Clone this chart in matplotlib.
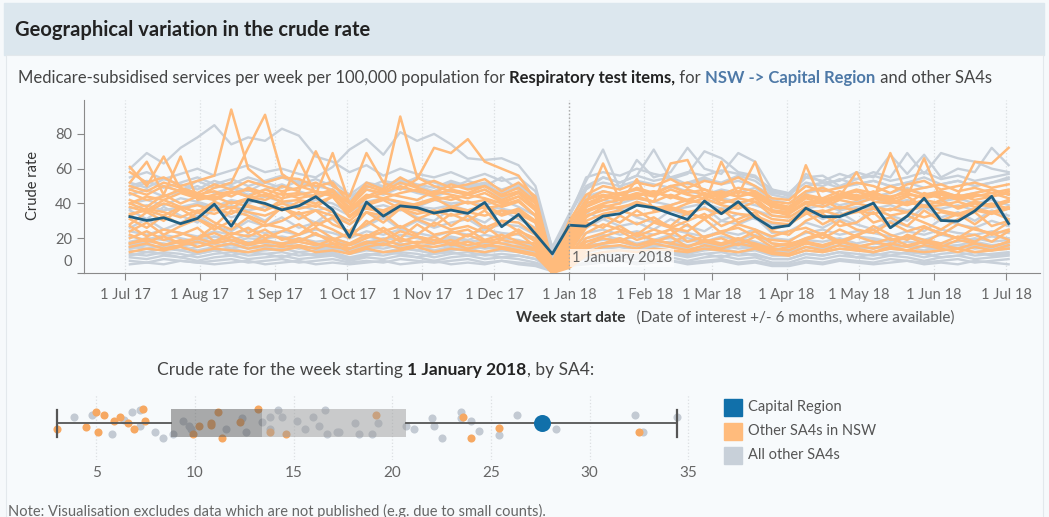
import numpy as np
import pandas as pd
import matplotlib
matplotlib.use("Agg")
import matplotlib.pyplot as plt
from matplotlib.patches import Rectangle
from matplotlib.transforms import ScaledTranslation

plt.rcParams['font.family'] = ['Lato', 'DejaVu Sans']

# ---- data ----
week_dates = pd.date_range('2017-07-03', periods=53, freq='7D')
month_ticks = pd.date_range('2017-07-01', '2018-07-01', freq='MS')
month_labels = ['1 Jul 17', '1 Aug 17', '1 Sep 17', '1 Oct 17', '1 Nov 17', '1 Dec 17',
                '1 Jan 18', '1 Feb 18', '1 Mar 18', '1 Apr 18', '1 May 18', '1 Jun 18',
                '1 Jul 18']
date_of_interest = pd.Timestamp('2018-01-01')

capital = [32.4, 30.2, 31.8, 28.4, 31.4, 39.6, 26.9, 42.2, 40.0, 36.3,
           38.6, 43.9, 36.3, 20.6, 40.8, 32.7, 38.6, 37.6, 34.5, 36.2,
           34.3, 40.6, 26.6, 33.7, 22.5, 11.0, 27.5, 26.9, 32.7, 34.1,
           39.0, 37.6, 34.1, 30.8, 41.4, 34.1, 41.0, 32.0, 25.9, 27.3,
           37.3, 32.4, 32.4, 36.0, 40.2, 26.0, 32.7, 43.0, 30.2, 29.8,
           35.7, 44.1, 28.4]

# other SA4s in NSW
nsw_lines = [
    [58, 52, 55, 50, 53, 56, 94, 60, 52, 55, 54, 50, 52, 40, 52, 48, 55, 50, 53, 49,
     51, 54, 47, 52, 44, 6, 30, 45, 50, 48, 52, 50, 54, 49, 53, 51, 55, 50, 43, 42,
     50, 47, 49, 52, 50, 46, 51, 53, 48, 50, 52, 49, 51],
    [48, 45, 50, 47, 44, 49, 52, 72, 91, 57, 50, 47, 45, 38, 48, 46, 50, 47, 45, 48,
     46, 50, 44, 47, 40, 4, 25, 40, 44, 46, 48, 45, 50, 46, 48, 44, 47, 45, 40, 38,
     45, 43, 47, 44, 46, 43, 48, 45, 47, 44, 46, 48, 45],
    [40, 44, 42, 46, 43, 45, 47, 44, 48, 45, 46, 43, 47, 36, 44, 48, 90, 55, 50, 47,
     45, 48, 42, 46, 38, 3, 22, 38, 42, 45, 44, 47, 43, 48, 45, 47, 44, 46, 39, 37,
     44, 42, 45, 43, 47, 42, 45, 44, 46, 43, 45, 44, 47],
    [42, 38, 45, 40, 44, 42, 46, 48, 44, 50, 47, 70, 50, 44, 69, 52, 48, 54, 72, 69,
     77, 64, 60, 56, 42, 5, 28, 42, 45, 43, 46, 44, 48, 45, 43, 46, 44, 47, 40, 38,
     45, 41, 44, 42, 45, 44, 46, 43, 45, 42, 44, 46, 43],
    [61, 50, 67, 48, 45, 47, 44, 49, 46, 43, 45, 47, 44, 35, 43, 46, 44, 42, 47, 45,
     43, 46, 41, 44, 36, 4, 20, 36, 40, 42, 43, 41, 45, 42, 46, 40, 43, 41, 36, 35,
     41, 40, 43, 45, 42, 69, 44, 66, 42, 45, 64, 63, 72],
    [52, 64, 45, 67, 42, 44, 40, 43, 45, 41, 42, 40, 44, 33, 40, 43, 41, 39, 42, 44,
     40, 42, 38, 41, 33, 3, 18, 40, 63, 42, 44, 41, 63, 65, 44, 42, 40, 43, 35, 34,
     40, 38, 42, 40, 43, 41, 39, 42, 40, 38, 41, 39, 42],
    [38, 35, 40, 37, 39, 36, 41, 38, 36, 40, 37, 39, 35, 30, 38, 36, 40, 37, 35, 38,
     36, 39, 34, 37, 30, 2, 16, 33, 36, 38, 40, 37, 39, 42, 40, 64, 45, 64, 36, 33,
     62, 40, 44, 58, 41, 40, 44, 38, 39, 41, 38, 40, 37],
    [34, 36, 33, 38, 35, 37, 34, 39, 36, 42, 65, 45, 69, 40, 37, 35, 38, 36, 34, 37,
     35, 38, 33, 36, 29, 2, 14, 32, 38, 40, 54, 36, 38, 35, 37, 34, 39, 36, 31, 30,
     36, 35, 38, 36, 34, 37, 35, 39, 36, 34, 37, 35, 38],
    [28, 35, 30, 37, 31, 27, 36, 33, 29, 38, 31, 36, 28, 24, 35, 29, 37, 31, 27, 34,
     30, 36, 27, 33, 25, 1, 12, 26, 33, 29, 36, 30, 27, 35, 31, 37, 29, 33, 25, 28,
     35, 28, 33, 37, 29, 32, 27, 36, 30, 34, 28, 35, 31],
    [31, 26, 33, 28, 35, 29, 25, 32, 27, 30, 35, 27, 32, 22, 28, 34, 26, 31, 35, 27,
     33, 26, 30, 29, 22, 1, 11, 29, 26, 33, 28, 32, 26, 30, 34, 27, 31, 35, 24, 22,
     30, 34, 27, 29, 35, 26, 33, 29, 25, 31, 35, 27, 30],
    [24, 29, 22, 27, 31, 25, 30, 23, 28, 26, 22, 29, 25, 20, 30, 24, 27, 22, 29, 25,
     27, 23, 30, 24, 20, 2, 10, 23, 28, 25, 22, 29, 26, 24, 31, 23, 28, 25, 21, 24,
     26, 22, 30, 25, 23, 29, 24, 27, 22, 28, 25, 23, 29],
    [27, 21, 25, 23, 20, 27, 22, 26, 20, 24, 28, 22, 19, 23, 21, 26, 20, 28, 22, 24,
     21, 27, 20, 25, 18, 1, 9, 20, 23, 27, 21, 25, 22, 28, 20, 24, 26, 21, 19, 18,
     24, 20, 25, 21, 27, 22, 19, 26, 23, 20, 26, 22, 25],
    [20, 24, 19, 22, 26, 18, 23, 21, 25, 19, 22, 26, 20, 17, 22, 19, 24, 21, 17, 23,
     25, 19, 22, 18, 17, 1, 8, 18, 21, 24, 19, 22, 25, 18, 21, 23, 19, 24, 17, 16,
     20, 23, 18, 22, 25, 19, 21, 17, 23, 20, 22, 18, 24],
    [22, 18, 21, 17, 20, 23, 19, 16, 22, 20, 18, 23, 17, 16, 20, 24, 18, 21, 19, 17,
     22, 18, 20, 23, 15, 0, 7, 16, 20, 18, 23, 19, 17, 22, 18, 20, 16, 21, 15, 17,
     19, 22, 17, 21, 18, 16, 22, 19, 17, 21, 18, 23, 19],
    [17, 20, 16, 19, 15, 18, 21, 17, 19, 16, 20, 17, 15, 14, 18, 16, 20, 17, 21, 16,
     18, 15, 19, 17, 14, 0, 6, 15, 17, 20, 16, 18, 21, 15, 19, 17, 20, 16, 13, 15,
     18, 16, 19, 15, 17, 20, 16, 18, 15, 19, 17, 15, 18],
    [17, 19, 16, 18, 20, 17, 19, 16, 18, 17, 18, 16, 19, 14, 17, 19, 16, 18, 17, 19,
     16, 18, 17, 15, 13, 0, 5, 14, 17, 18, 16, 19, 17, 15, 18, 16, 19, 17, 14, 13,
     17, 15, 18, 16, 14, 17, 15, 18, 16, 14, 17, 15, 18],
    [15, 17, 14, 16, 18, 15, 17, 14, 16, 15, 16, 14, 17, 12, 15, 17, 14, 16, 15, 17,
     14, 16, 15, 13, 11, 0, 4, 12, 15, 16, 14, 17, 15, 13, 16, 14, 17, 15, 12, 11,
     15, 13, 16, 14, 12, 15, 13, 16, 14, 12, 15, 13, 16],
    [40, 36, 42, 38, 35, 41, 37, 43, 39, 36, 41, 38, 44, 32, 39, 42, 37, 40, 43, 38,
     41, 37, 39, 42, 33, 2, 17, 35, 39, 37, 41, 38, 36, 40, 43, 39, 37, 41, 33, 32,
     38, 42, 37, 40, 38, 36, 41, 38, 42, 37, 40, 38, 41],
    [33, 37, 35, 32, 36, 34, 38, 35, 33, 37, 34, 36, 33, 28, 35, 33, 37, 34, 36, 33,
     35, 33, 36, 34, 29, 1, 13, 30, 34, 36, 33, 35, 37, 34, 32, 36, 34, 33, 29, 28,
     34, 36, 33, 35, 37, 33, 35, 32, 35, 33, 36, 34, 37],
    [46, 42, 44, 48, 45, 43, 47, 44, 42, 46, 43, 45, 48, 37, 45, 43, 46, 48, 44, 42,
     45, 43, 40, 44, 37, 3, 21, 38, 44, 42, 45, 47, 44, 41, 46, 43, 47, 44, 38, 36,
     43, 40, 44, 47, 44, 42, 40, 46, 43, 45, 42, 44, 46],
    [12, 14, 13, 15, 12, 14, 13, 12, 14, 13, 15, 12, 13, 11, 14, 12, 13, 15, 12, 14,
     13, 12, 14, 12, 10, 0, 3, 10, 12, 13, 12, 14, 13, 12, 14, 13, 12, 14, 11, 10,
     13, 12, 14, 13, 12, 14, 13, 12, 13, 14, 12, 13, 14],
    [50, 47, 52, 49, 46, 51, 48, 53, 50, 47, 49, 52, 47, 40, 50, 47, 52, 49, 46, 51,
     48, 50, 45, 49, 41, 5, 24, 42, 47, 45, 49, 46, 50, 52, 48, 45, 49, 47, 41, 40,
     47, 49, 45, 48, 46, 50, 47, 49, 51, 47, 49, 46, 48],
]

# all other SA4s
other_lines = [
    [60, 69, 63, 72, 78, 85, 74, 78, 76, 83, 79, 67, 64, 58, 62, 56, 60, 57, 55, 58,
     54, 57, 53, 55, 47, 12, 33, 50, 55, 52, 56, 53, 55, 51, 54, 52, 56, 53, 46, 45,
     52, 50, 54, 51, 53, 50, 52, 55, 51, 53, 50, 52, 54],
    [55, 58, 54, 57, 60, 56, 59, 62, 58, 60, 57, 55, 61, 71, 77, 68, 81, 76, 80, 74,
     66, 65, 66, 62, 50, 14, 32, 55, 58, 56, 60, 57, 55, 58, 56, 59, 57, 55, 48, 46,
     55, 53, 57, 54, 56, 53, 55, 58, 54, 56, 53, 55, 57],
    [48, 52, 50, 47, 53, 49, 51, 55, 52, 49, 53, 50, 48, 42, 51, 49, 53, 50, 47, 52,
     49, 51, 46, 50, 43, 15, 34, 53, 71, 48, 65, 55, 58, 72, 60, 57, 69, 64, 48, 44,
     57, 52, 53, 58, 55, 68, 57, 68, 55, 60, 58, 72, 62],
    [52, 49, 54, 51, 48, 53, 50, 47, 52, 55, 51, 54, 50, 44, 49, 53, 51, 55, 52, 49,
     53, 50, 55, 48, 42, 13, 28, 48, 55, 52, 56, 71, 54, 57, 70, 66, 58, 56, 47, 45,
     55, 56, 50, 54, 58, 55, 69, 57, 69, 66, 64, 60, 58],
    [45, 48, 44, 47, 50, 46, 49, 45, 48, 51, 47, 44, 46, 40, 48, 45, 49, 46, 44, 47,
     45, 48, 43, 46, 38, 11, 24, 44, 47, 45, 48, 46, 50, 47, 45, 48, 46, 49, 42, 40,
     46, 48, 45, 47, 44, 46, 49, 45, 47, 44, 46, 48, 45],
    [40, 42, 39, 43, 41, 38, 42, 40, 44, 41, 39, 42, 40, 35, 41, 43, 40, 38, 42, 40,
     41, 39, 42, 38, 33, 10, 23, 39, 42, 40, 43, 41, 39, 42, 40, 43, 41, 39, 36, 35,
     40, 42, 39, 41, 43, 40, 42, 39, 41, 43, 40, 42, 39],
    [36, 31, 38, 33, 29, 37, 32, 35, 30, 38, 33, 29, 36, 28, 35, 31, 38, 32, 30, 37,
     33, 29, 36, 31, 26, 9, 21, 35, 31, 37, 32, 29, 36, 33, 38, 30, 34, 31, 28, 27,
     36, 31, 35, 29, 37, 33, 30, 38, 32, 35, 30, 36, 33],
    [26, 31, 25, 29, 33, 27, 24, 30, 27, 32, 26, 29, 31, 23, 27, 32, 25, 30, 26, 29,
     31, 25, 28, 27, 22, 8, 20, 26, 31, 27, 29, 25, 31, 27, 24, 30, 28, 32, 23, 24,
     29, 26, 31, 28, 25, 30, 27, 24, 31, 28, 26, 30, 27],
    [24, 22, 25, 23, 21, 24, 22, 25, 23, 24, 22, 25, 23, 20, 24, 22, 25, 23, 21, 24,
     22, 25, 23, 22, 19, 7, 19, 23, 25, 22, 24, 22, 25, 23, 21, 24, 22, 25, 20, 19,
     23, 25, 22, 24, 23, 21, 24, 22, 25, 23, 22, 24, 23],
    [21, 19, 22, 20, 18, 21, 19, 22, 20, 21, 19, 22, 20, 17, 21, 19, 22, 20, 18, 21,
     19, 22, 20, 19, 16, 6, 17, 20, 22, 19, 21, 19, 22, 20, 18, 21, 19, 22, 17, 16,
     20, 22, 19, 21, 20, 18, 21, 19, 22, 20, 19, 21, 20],
    [18, 20, 19, 17, 19, 21, 18, 20, 19, 17, 20, 18, 19, 16, 18, 20, 19, 17, 19, 20,
     18, 19, 17, 18, 15, 6, 16, 18, 19, 20, 17, 19, 20, 18, 19, 17, 20, 18, 15, 16,
     19, 18, 20, 17, 19, 18, 20, 19, 17, 18, 20, 18, 19],
    [16, 18, 17, 15, 17, 19, 16, 18, 17, 15, 18, 16, 17, 14, 16, 18, 17, 15, 17, 18,
     16, 17, 15, 16, 13, 5, 14, 16, 17, 18, 15, 17, 18, 16, 17, 15, 18, 16, 13, 14,
     17, 16, 18, 15, 17, 16, 18, 17, 15, 16, 18, 16, 17],
    [15, 14, 16, 15, 13, 15, 16, 14, 15, 16, 14, 15, 16, 13, 15, 14, 16, 15, 13, 15,
     16, 14, 15, 14, 12, 5, 12, 14, 16, 15, 14, 16, 15, 13, 15, 16, 14, 15, 12, 12,
     15, 14, 16, 15, 14, 16, 15, 13, 15, 16, 14, 15, 16],
    [13, 12, 14, 13, 11, 13, 14, 12, 13, 14, 12, 13, 14, 11, 13, 12, 14, 13, 11, 13,
     14, 12, 13, 12, 10, 4, 10, 12, 14, 13, 12, 14, 13, 11, 13, 14, 12, 13, 10, 10,
     13, 12, 14, 13, 12, 14, 13, 11, 13, 14, 12, 13, 14],
    [11, 10, 12, 11, 9, 11, 12, 10, 11, 12, 10, 11, 12, 9, 11, 10, 12, 11, 9, 11,
     12, 10, 11, 10, 8, 3, 8, 10, 12, 11, 10, 12, 11, 9, 11, 12, 10, 11, 8, 8,
     11, 10, 12, 11, 10, 12, 11, 9, 11, 12, 10, 11, 12],
    [9, 8, 10, 9, 7, 9, 10, 8, 9, 10, 8, 9, 10, 7, 9, 8, 10, 9, 7, 9,
     10, 8, 9, 8, 6, 3, 7, 8, 10, 9, 8, 10, 9, 7, 9, 10, 8, 9, 6, 6,
     9, 8, 10, 9, 8, 10, 9, 7, 9, 10, 8, 9, 10],
    [7, 6, 8, 7, 6, 7, 8, 6, 7, 8, 6, 7, 8, 6, 7, 6, 8, 7, 6, 7,
     8, 6, 7, 6, 5, 2, 4, 6, 8, 7, 6, 8, 7, 6, 7, 8, 6, 7, 5, 5,
     7, 6, 8, 7, 6, 8, 7, 6, 7, 8, 6, 7, 8],
    [50, 53, 49, 52, 55, 51, 54, 50, 53, 56, 52, 49, 53, 45, 52, 50, 54, 51, 49, 53,
     50, 52, 48, 51, 44, 12, 26, 49, 52, 50, 53, 51, 49, 52, 55, 51, 53, 50, 45, 43,
     50, 52, 49, 51, 53, 50, 52, 49, 51, 53, 50, 52, 55],
    [37, 39, 36, 38, 40, 37, 39, 36, 38, 37, 39, 36, 38, 33, 37, 39, 36, 38, 37, 39,
     36, 38, 37, 35, 30, 9, 22, 36, 38, 37, 39, 37, 36, 38, 40, 37, 39, 36, 33, 32,
     37, 39, 36, 38, 37, 39, 36, 38, 37, 39, 36, 38, 37],
    [14, 16, 15, 13, 15, 17, 14, 16, 15, 13, 16, 14, 15, 12, 14, 16, 15, 13, 15, 16,
     14, 15, 13, 14, 11, 4, 9, 12, 14, 15, 13, 15, 16, 14, 15, 13, 16, 14, 11, 12,
     15, 14, 16, 13, 15, 14, 16, 15, 13, 14, 16, 14, 15],
    [10, 12, 11, 9, 11, 13, 10, 12, 11, 9, 12, 10, 11, 8, 10, 12, 11, 9, 11, 12,
     10, 11, 9, 10, 8, 3, 5, 9, 10, 11, 9, 11, 12, 10, 11, 9, 12, 10, 8, 8,
     11, 10, 12, 9, 11, 10, 12, 11, 9, 10, 12, 10, 11],
    [5, 6, 5, 7, 6, 5, 6, 7, 5, 6, 7, 5, 6, 5, 6, 7, 5, 6, 7, 5,
     6, 5, 7, 5, 4, 1, 4, 5, 6, 7, 5, 6, 7, 5, 6, 7, 5, 6, 4, 4,
     6, 5, 7, 6, 5, 6, 7, 5, 6, 5, 7, 6, 5],
]

# week starting 1 January 2018, by SA4
jan_nsw = [3.0, 4.5, 5.0, 5.4, 5.1, 5.9, 6.2, 6.6, 6.9, 7.4, 7.5, 9.9, 10.2,
           10.8, 10.8, 11.2, 11.4, 12.3, 13.2, 13.8, 14.6, 19.2, 23.6, 24.0,
           25.4, 32.5]
jan_other = [3.9, 4.8, 5.8, 6.4, 6.8, 7.2, 7.2, 8.0, 8.4, 8.9, 9.4, 9.7, 9.8,
             11.6, 12.4, 12.6, 13.4, 13.8, 13.8, 14.2, 14.4, 15.2, 15.6, 16.0,
             16.3, 16.6, 16.7, 17.2, 17.3, 18.1, 18.3, 19.0, 19.3, 20.7, 21.1,
             22.0, 22.1, 22.5, 23.5, 23.5, 24.0, 24.4, 25.4, 26.3, 28.3, 32.3,
             32.7, 34.4]
jan_capital = 27.6
jan_box = [3.0, 8.8, 13.4, 20.7, 34.4]   # min, q1, median, q3, max

legend_labels = ['Capital Region', 'Other SA4s in NSW', 'All other SA4s']

# jitter of the dots (layout only)
nsw_jitter = [-5.6, -4.0, 10.9, 7.8, -8.7, 2.5, 6.2, 0, -6.2, 14, 2.5, -10.9, -3.1,
              -2.2, 0, 10.9, -14.9, 0.6, 14, -8.7, -10.9, 7.8, 6.2, -14.6, -5.3, -8.7]
other_jitter = [5.9, 7.8, -10.9, 3.1, 11.5, 13.1, -3.1, -8.7, -14.6, -10.9, 1.6,
                -3.1, -6.2, -6.2, 4.7, -9.3, 0.6, -6.2, 6.2, 13.4, 5.6, 1.6, -5.6,
                6.2, -3.1, 13.4, -10.9, -9.3, -9.3, 0, -10.9, -10.9, 0, -3.1, -5.6,
                5.3, -3.1, -14.9, 10.9, 4.7, 1.6, -8.4, -11.5, 8.4, -5.6, 8.4, -8.7,
                6.2]

for r in nsw_lines + other_lines:
    assert len(r) == len(week_dates), len(r)

BLUE_LINE = '#1f5f82'
BLUE = '#1170aa'
ORANGE = '#ffbb7c'
ORANGE_DOT = '#f6a862'
GREY = '#c8d0d9'
GREY_DOT = '#c3cad3'
TXT = '#555555'

W, H = 1049, 517
fig = plt.figure(figsize=(W / 100, H / 100), dpi=100)
fig.patch.set_facecolor('#f6f9fb')


def px_axes(x0, y0, x1, y1):
    return fig.add_axes([x0 / W, 1 - y1 / H, (x1 - x0) / W, (y1 - y0) / H])


def rich(x, y, parts, size):
    r = fig.canvas.get_renderer()
    for s, bold, col in parts:
        t = fig.text(x / W, 1 - y / H, s, fontsize=size, color=col,
                     fontweight='bold' if bold else 'normal', va='center')
        x += t.get_window_extent(r).width


# header band and frame
fig.patches.append(Rectangle((4 / W, 1 - 55 / H), 1040 / W, 52 / H,
                             transform=fig.transFigure, color='#dce7ee', zorder=-10))
fig.patches.append(Rectangle((6 / W, -0.01), 1037 / W, 1 - 55 / H + 0.01,
                             transform=fig.transFigure, facecolor='#f7fafc',
                             edgecolor='#e3e8ec', lw=0.8, zorder=-10))
fig.text(15 / W, 1 - 30 / H, 'Geographical variation in the crude rate',
         fontsize=14.5, fontweight='bold', color='#222222', va='center')

rich(18, 78, [('Medicare-subsidised services per week per 100,000 population for ', False, '#444444'),
              ('Respiratory test items,', True, '#222222'),
              (' for ', False, '#444444'),
              ('NSW -> Capital Region', True, '#4e79a7'),
              (' and other SA4s', False, '#444444')], 12)

# ---- line chart ----
ax = px_axes(84, 100, 1040, 273)
ax.set_facecolor('none')
for row in other_lines:
    ax.plot(week_dates, row, color=GREY, lw=1.7, zorder=2)
for row in nsw_lines:
    ax.plot(week_dates, row, color=ORANGE, lw=1.8, zorder=3)
ax.plot(week_dates, capital, color=BLUE_LINE, lw=2.0, zorder=4)

ax.set_xlim(pd.Timestamp('2017-06-14'), pd.Timestamp('2018-07-15'))
ax.set_ylim(0, 99.5)
ax.set_xticks(month_ticks)
ax.set_xticklabels(month_labels)
ax.set_yticks([0, 20, 40, 60, 80])
ax.tick_params(axis='both', colors='#888888', labelcolor='#666666', labelsize=10.5,
               length=5, width=0.8)
ax.tick_params(axis='x', pad=6)
ax.grid(axis='x', color='#d9dde0', ls=':', lw=0.9)
for s in ['top', 'right']:
    ax.spines[s].set_visible(False)
for s in ['left', 'bottom']:
    ax.spines[s].set_color('#8a8a8a')
lab0 = ax.yaxis.get_major_ticks()[0].label1
lab0.set_transform(lab0.get_transform() + ScaledTranslation(0, 0.13, fig.dpi_scale_trans))

ax.axvline(date_of_interest, color='#a8a8a8', ls=':', lw=1.0, zorder=5)
ax.text(date_of_interest + pd.Timedelta(days=1), 8.6, '1 January 2018', fontsize=10.5,
        color='#666666', va='center', ha='left', zorder=6,
        bbox=dict(facecolor='white', alpha=0.75, edgecolor='none', pad=1.5))

fig.text(33 / W, 1 - 185 / H, 'Crude rate', rotation=90, fontsize=10.5,
         color='#333333', ha='center', va='center')
rich(516, 318, [('Week start date', True, '#333333'),
                ('   (Date of interest +/- 6 months, where available)', False, '#555555')], 11)

# ---- strip + box plot ----
rich(157, 370, [('Crude rate for the week starting ', False, '#444444'),
                ('1 January 2018', True, '#222222'),
                (', by SA4:', False, '#444444')], 12.5)

ax2 = px_axes(40, 395, 705, 460)
ax2.set_facecolor('none')
ax2.set_xlim(2.16, 35.84)
ax2.set_ylim(-37, 28)
ax2.scatter(jan_other, other_jitter, s=34, color=GREY_DOT, lw=0, zorder=2)
ax2.scatter(jan_nsw, nsw_jitter, s=34, color=ORANGE_DOT, lw=0, zorder=2)
wmin, q1, med, q3, wmax = jan_box
ax2.add_patch(Rectangle((q1, -14), med - q1, 28, color='#5a5a5a', alpha=0.5, lw=0, zorder=3))
ax2.add_patch(Rectangle((med, -14), q3 - med, 28, color='#9c9c9c', alpha=0.5, lw=0, zorder=3))
ax2.plot([wmin, q1], [0, 0], color='#555555', lw=1.3, zorder=4)
ax2.plot([q3, wmax], [0, 0], color='#555555', lw=1.3, zorder=4)
for w in (wmin, wmax):
    ax2.plot([w, w], [-13.5, 13.5], color='#555555', lw=1.6, zorder=4)
ax2.scatter([jan_capital], [0], s=150, color=BLUE, lw=0, zorder=5)
ax2.set_xticks([5, 10, 15, 20, 25, 30, 35])
ax2.set_yticks([])
ax2.tick_params(axis='x', length=0, labelsize=11, labelcolor='#666666', pad=4)
ax2.grid(axis='x', color='#dcdfe2', ls=':', lw=0.9)
for s in ax2.spines.values():
    s.set_visible(False)

# legend
legend_colors = [BLUE, ORANGE, GREY]
for i, (lab, col) in enumerate(zip(legend_labels, legend_colors)):
    y = 407 + 24 * i
    fig.patches.append(Rectangle((724 / W, 1 - (y + 8.5) / H), 18 / W, 17 / H,
                                 transform=fig.transFigure, color=col, zorder=2))
    fig.text(748 / W, 1 - y / H, lab, fontsize=10.5, color=TXT, va='center')

fig.text(8 / W, 1 - 511 / H,
         'Note: Visualisation excludes data which are not published (e.g. due to small counts).',
         fontsize=10.5, color='#666666', va='center')

fig.savefig('out.png', dpi=100)
